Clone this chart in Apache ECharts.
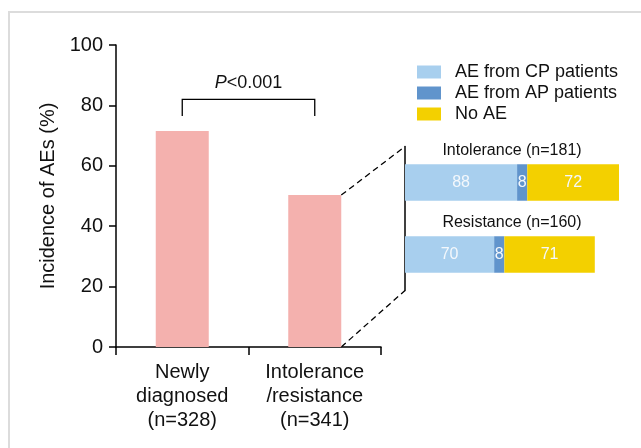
<!DOCTYPE html>
<html>
<head>
<meta charset="utf-8">
<style>
html,body{margin:0;padding:0;background:#fff;}
#c{width:641px;height:448px;}
</style>
<script src="https://cdn.jsdelivr.net/npm/echarts@6/dist/echarts.min.js"></script>
</head>
<body>
<div id="c"></div>
<script>
// Main chart data
var categories = ['Newly\ndiagnosed\n(n=328)', 'Intolerance\n/resistance\n(n=341)'];
var incidence = [71.5, 50.3];
var yTicks = [0, 20, 40, 60, 80, 100];

// Breakdown data
var groups = ['Intolerance (n=181)', 'Resistance (n=160)'];
var aeCP = [88, 70];
var aeAP = [8, 8];
var noAE = [72, 71];
var seriesNames = ['AE from CP patients', 'AE from AP patients', 'No AE'];
var pValue = 'P<0.001';

var FONT = '"Liberation Sans", Arial, sans-serif';
var chart = echarts.init(document.getElementById('c'), null, {renderer: 'canvas'});

var insideLabel = {
  show: true, position: 'inside', color: '#f4f8fc', fontSize: 16, fontFamily: FONT
};

chart.setOption({
  animation: false,
  backgroundColor: '#fff',
  textStyle: {fontFamily: FONT},
  legend: {
    data: seriesNames,
    orient: 'vertical',
    left: 417, top: 63, padding: 0,
    itemWidth: 24, itemHeight: 13, itemGap: 3,
    icon: 'rect',
    textStyle: {fontSize: 18, color: '#111', fontFamily: FONT, padding: [0, 0, 0, 9]},
    selectedMode: false
  },
  grid: [
    {left: 116, top: 45, width: 265, height: 302},
    {left: 405, top: 146.5, width: 214, height: 144}
  ],
  xAxis: [
    {
      type: 'category', gridIndex: 0, data: categories,
      axisLine: {lineStyle: {color: '#000', width: 1.5}},
      axisTick: {show: true, length: 8, lineStyle: {color: '#000', width: 1.5}},
      axisLabel: {fontSize: 20, color: '#111', lineHeight: 24, margin: 13, fontFamily: FONT, interval: 0}
    },
    {type: 'value', gridIndex: 1, min: 0, max: 168, show: false}
  ],
  yAxis: [
    {
      type: 'value', gridIndex: 0, min: 0, max: 100, interval: 20,
      name: 'Incidence of AEs (%)', nameLocation: 'middle', nameGap: 58, nameRotate: 90,
      nameTextStyle: {fontSize: 20, color: '#111', fontFamily: FONT},
      axisLine: {show: true, lineStyle: {color: '#000', width: 1.5}},
      axisTick: {show: true, length: 7, lineStyle: {color: '#000', width: 1.5}},
      axisLabel: {fontSize: 20, color: '#111', margin: 13, fontFamily: FONT,
        formatter: function (v) { return yTicks.indexOf(v) >= 0 ? String(v) : ''; }},
      splitLine: {show: false}
    },
    {
      type: 'category', gridIndex: 1, data: groups, inverse: true,
      axisLine: {show: true, lineStyle: {color: '#000', width: 1.5}},
      axisTick: {show: false}, axisLabel: {show: false}
    }
  ],
  series: [
    {
      type: 'bar', name: 'Incidence', xAxisIndex: 0, yAxisIndex: 0,
      data: incidence, barWidth: '40%', itemStyle: {color: '#F4B1AE'}
    },
    {
      type: 'bar', name: seriesNames[0], xAxisIndex: 1, yAxisIndex: 1, stack: 'a',
      data: aeCP, barWidth: 36.5, itemStyle: {color: '#A8CFEE'}, label: insideLabel
    },
    {
      type: 'bar', name: seriesNames[1], xAxisIndex: 1, yAxisIndex: 1, stack: 'a',
      data: aeAP, barWidth: 36.5, itemStyle: {color: '#6094CC'}, label: insideLabel
    },
    {
      type: 'bar', name: seriesNames[2], xAxisIndex: 1, yAxisIndex: 1, stack: 'a',
      data: noAE, barWidth: 36.5, itemStyle: {color: '#F3D000'}, label: insideLabel
    }
  ]
});

// Annotations positioned through the axes' scales
var g0 = {xAxisIndex: 0, yAxisIndex: 0};
var g1 = {xAxisIndex: 1, yAxisIndex: 1};
var c0 = chart.convertToPixel(g0, [0, 82]);
var c1 = chart.convertToPixel(g0, [1, 82]);
var lowY = chart.convertToPixel(g0, [0, 76.5])[1];
var pY = chart.convertToPixel(g0, [0, 87.3])[1];
var pX = (c0[0] + c1[0]) / 2;
var bandW = c1[0] - c0[0];
var barRight = chart.convertToPixel(g0, [1, incidence[1]]);
barRight[0] += bandW * 0.2;
var zeroY = chart.convertToPixel(g0, [1, 0])[1];
var rect = chart.getModel().getComponent('grid', 1).coordinateSystem.getRect();

var graphics = [
  {type: 'rect', shape: {x: 9, y: 12, width: 700, height: 500}, style: {fill: 'none', stroke: '#dcdcdc', lineWidth: 2}, silent: true},
  {type: 'polyline', shape: {points: [[c0[0], lowY], [c0[0], c0[1]], [c1[0], c1[1]], [c1[0], lowY]]}, style: {stroke: '#000', lineWidth: 1.3, fill: 'none'}},
  {type: 'text', x: pX, y: pY, style: {
    text: '{i|P}{n|<0.001}', align: 'center', verticalAlign: 'middle',
    rich: {i: {fontStyle: 'italic', fontSize: 18, fontFamily: FONT, fill: '#111'}, n: {fontSize: 18, fontFamily: FONT, fill: '#111'}}
  }},
  {type: 'line', shape: {x1: barRight[0], y1: barRight[1], x2: rect.x, y2: rect.y}, style: {stroke: '#000', lineWidth: 1.3, lineDash: [6, 4]}},
  {type: 'line', shape: {x1: barRight[0], y1: zeroY, x2: rect.x, y2: rect.y + rect.height}, style: {stroke: '#000', lineWidth: 1.3, lineDash: [6, 4]}}
];
groups.forEach(function (gname, i) {
  var p = chart.convertToPixel(g1, [84, i]);
  graphics.push({type: 'text', x: p[0], y: p[1] - 32, style: {
    text: gname, align: 'center', verticalAlign: 'middle', fontSize: 16, fontFamily: FONT, fill: '#111'
  }});
});
chart.setOption({graphic: graphics});
</script>
</body>
</html>
